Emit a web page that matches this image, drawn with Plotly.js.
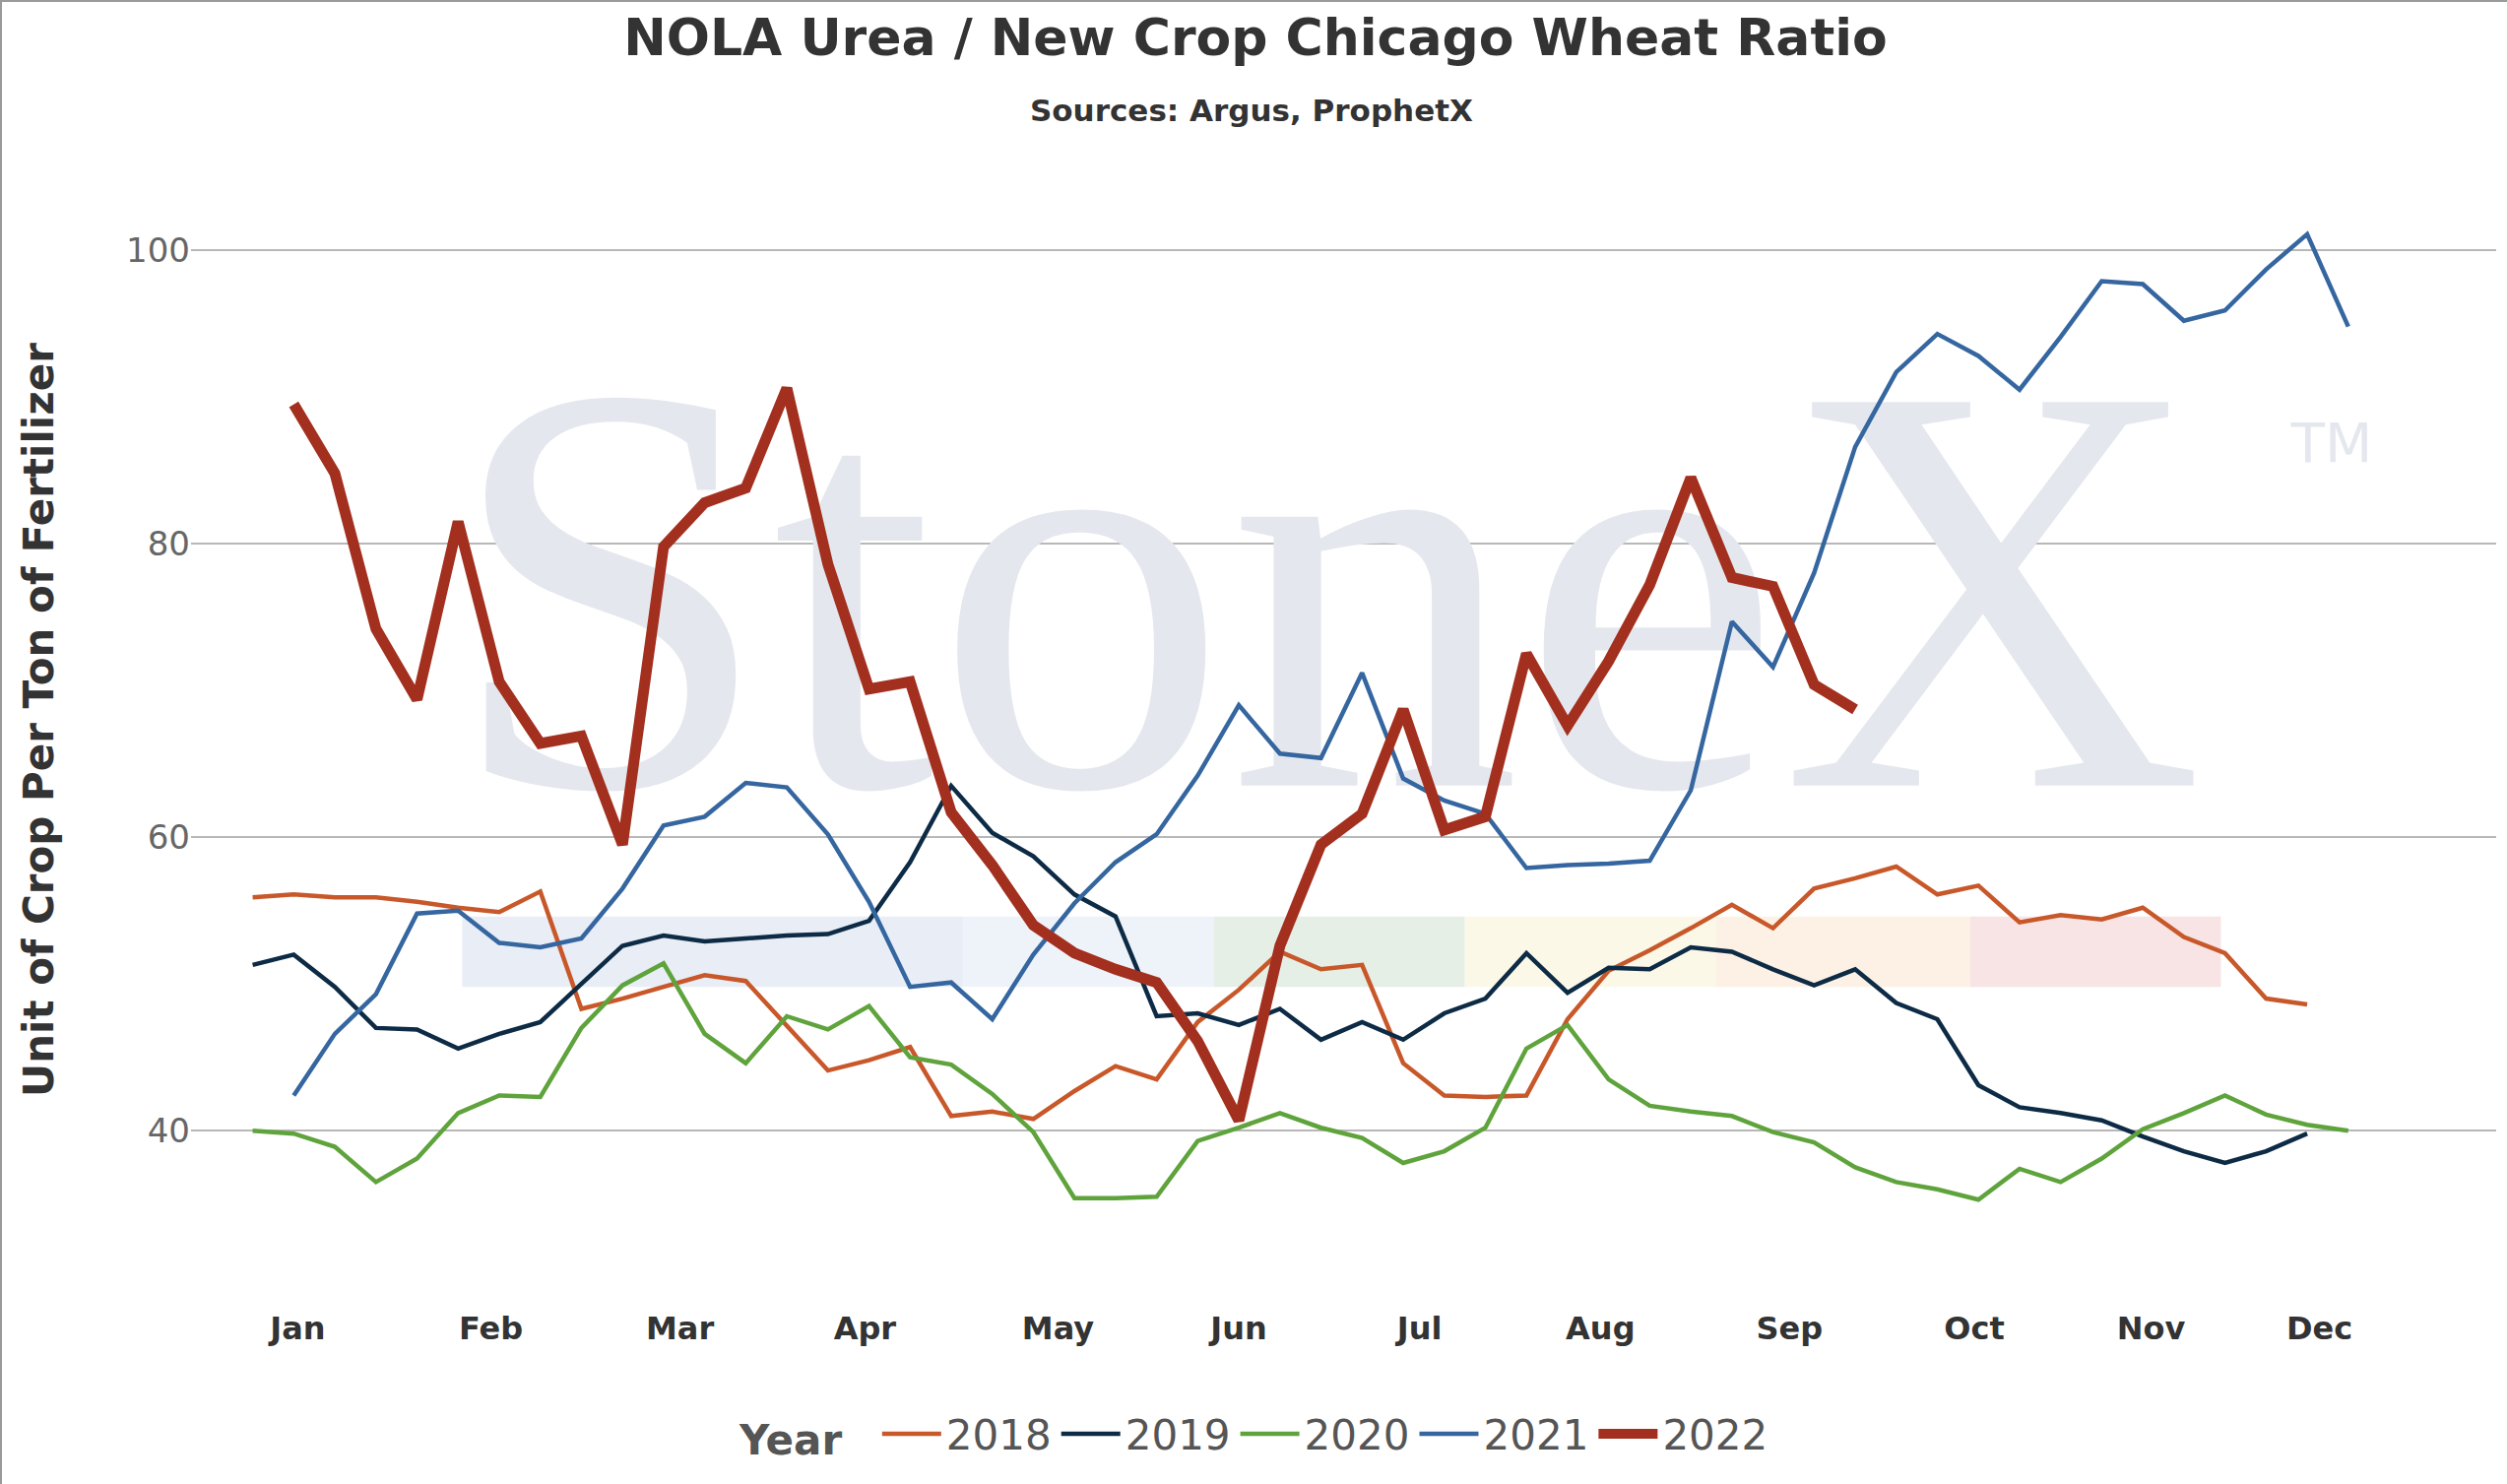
<!DOCTYPE html>
<html>
<head>
<meta charset="utf-8">
<script src="https://cdn.plot.ly/plotly-3.0.1.min.js"></script>
<style>
  html, body { margin: 0; padding: 0; background: #fff; }
  #chart { width: 2546px; height: 1507px; box-sizing: border-box; border: 2px solid #9a9a9a; }
</style>
</head>
<body>
<div id="chart"></div>
<script>
// weekly ratio values, week 1 = first week of January
const y2018 = [55.9, 56.1, 55.9, 55.9, 55.6, 55.2, 54.9, 56.3, 48.3, 49.0, 49.8, 50.6, 50.2, 47.2, 44.1, 44.8, 45.7,
  41.0, 41.3, 40.8, 42.7, 44.4, 43.5, 47.4, 49.6, 52.2, 51.0, 51.3, 44.6, 42.4, 42.3, 42.4, 47.6, 50.9, 52.3, 53.8,
  55.4, 53.8, 56.5, 57.2, 58.0, 56.1, 56.7, 54.2, 54.7, 54.4, 55.2, 53.2, 52.1, 49.0, 48.6];
const y2019 = [51.3, 52.0, 49.8, 47.0, 46.9, 45.6, 46.6, 47.4, 50.0, 52.6, 53.3, 52.9, 53.1, 53.3, 53.4, 54.3, 58.3,
  63.5, 60.3, 58.7, 56.1, 54.6, 47.8, 48.0, 47.2, 48.3, 46.2, 47.4, 46.2, 48.0, 49.0, 52.1, 49.4, 51.1, 51.0, 52.5,
  52.2, 51.0, 49.9, 51.0, 48.7, 47.6, 43.1, 41.6, 41.2, 40.7, 39.6, 38.6, 37.8, 38.6, 39.8];
const y2020 = [40.0, 39.8, 38.9, 36.5, 38.1, 41.2, 42.4, 42.3, 47.0, 49.9, 51.4, 46.6, 44.6, 47.8, 46.9, 48.5, 45.0,
  44.5, 42.5, 39.9, 35.4, 35.4, 35.5, 39.3, 40.2, 41.2, 40.2, 39.5, 37.8, 38.6, 40.2, 45.6, 47.2, 43.5, 41.7, 41.3,
  41.0, 39.9, 39.2, 37.5, 36.5, 36.0, 35.3, 37.4, 36.5, 38.1, 40.1, 41.2, 42.4, 41.1, 40.4, 40.0];
const y2021 = [null, 42.4, 46.6, 49.3, 54.8, 55.0, 52.8, 52.5, 53.1, 56.5, 60.8, 61.4, 63.7, 63.4, 60.2, 55.6, 49.8,
  50.1, 47.6, 52.0, 55.5, 58.3, 60.2, 64.2, 69.0, 65.7, 65.4, 71.2, 64.0, 62.5, 61.6, 57.9, 58.1, 58.2, 58.4, 63.2,
  74.7, 71.6, 78.0, 86.6, 91.7, 94.3, 92.8, 90.5, 94.1, 97.9, 97.7, 95.2, 95.9, 98.7, 101.1, 94.8];
const y2022 = [null, 89.5, 84.8, 74.2, 69.4, 81.5, 70.6, 66.4, 66.9, 59.5, 79.8, 82.8, 83.8, 90.6, 78.6, 70.1, 70.6,
  61.7, 58.1, 54.0, 52.1, 51.0, 50.1, 46.1, 40.7, 52.6, 59.5, 61.6, 68.7, 60.5, 61.4, 72.5, 67.6, 72.0, 77.2, 84.5,
  77.7, 77.1, 70.4, 68.7];
const months = ['Jan', 'Feb', 'Mar', 'Apr', 'May', 'Jun', 'Jul', 'Aug', 'Sep', 'Oct', 'Nov', 'Dec'];
const monthWeeks = [2.1, 6.8, 11.4, 15.9, 20.6, 25.0, 29.4, 33.8, 38.4, 42.9, 47.2, 51.3];

const weeks = n => Array.from({length: n}, (_, i) => i + 1);

function line(name, ys, color, width) {
  return {x: weeks(ys.length), y: ys, name: name, type: 'scatter', mode: 'lines',
    line: {color: color, width: width}};
}

const watermark = {
  x: [27.1], y: [73.5], mode: 'text', text: ['StoneX'], type: 'scatter',
  textfont: {family: 'Liberation Serif', size: 595, color: '#e4e8ee'},
  showlegend: false, hoverinfo: 'skip'
};
const trademark = {
  x: [51.6], y: [86.5], mode: 'text', text: ['TM'], type: 'scatter',
  textfont: {family: 'DejaVu Sans', size: 56, color: '#e4e8ee'},
  showlegend: false, hoverinfo: 'skip'
};

const data = [
  watermark,
  trademark,
  line('2018', y2018, '#c8582a', 4.5),
  line('2019', y2019, '#0d2b45', 4.5),
  line('2020', y2020, '#5fa33c', 4.5),
  line('2021', y2021, '#3566a0', 4.5),
  line('2022', y2022, '#a3301f', 11)
];

// pastel band behind the lines
const bandColors = ['#e8edf6', '#e8edf6', '#eef3fa', '#e5efe6', '#fbf8e8', '#fcf1e4', '#f8e4e4'];
const bandEdges = [6.1, 12.2, 18.3, 24.4, 30.5, 36.6, 42.8, 48.9];
const shapes = bandColors.map((c, i) => ({
  type: 'rect', layer: 'below', xref: 'x', yref: 'y',
  x0: bandEdges[i], x1: bandEdges[i + 1], y0: 49.8, y1: 54.6,
  fillcolor: c, line: {width: 0}
}));

const layout = {
  width: 2546, height: 1507,
  margin: {l: 192, r: 13, t: 133, b: 182},
  paper_bgcolor: '#fff', plot_bgcolor: '#fff',
  font: {family: 'DejaVu Sans', color: '#333'},
  title: {
    text: '<b>NOLA Urea / New Crop Chicago Wheat Ratio</b>',
    font: {size: 52, color: '#333'}, x: 0.5, xref: 'container', yref: 'container', y: 0.976, yanchor: 'middle'
  },
  annotations: [{
    text: '<b>Sources: Argus, ProphetX</b>', xref: 'paper', yref: 'paper', x: 0.46, y: 1.019,
    xanchor: 'center', yanchor: 'middle', showarrow: false, font: {size: 31, color: '#333'}
  }],
  xaxis: {
    range: [-0.5, 55.6], tickvals: monthWeeks, ticktext: months.map(m => '<b>' + m + '</b>'),
    showgrid: false, zeroline: false, showline: false, ticks: '',
    tickfont: {size: 32, color: '#333'}, automargin: false
  },
  yaxis: {
    range: [28, 108], tickvals: [40, 60, 80, 100], showgrid: true, gridcolor: '#b8b8b8', gridwidth: 2,
    zeroline: false, showline: false, ticks: '', tickfont: {size: 34, color: '#666'}, automargin: false,
    title: {text: '<b>Unit of Crop Per Ton of Fertilizer</b>', font: {size: 42, color: '#333'}, standoff: 60}
  },
  legend: {
    orientation: 'h', x: 0.5, xanchor: 'center', xref: 'container', yref: 'container', y: 0.035, yanchor: 'middle',
    font: {size: 42, color: '#555'}, itemwidth: 60, traceorder: 'normal',
    title: {text: '<b>Year</b>  ', font: {size: 42, color: '#555'}}
  },
  shapes: shapes,
  showlegend: true
};

Plotly.newPlot('chart', data, layout, {displayModeBar: false, staticPlot: true});
</script>
</body>
</html>
